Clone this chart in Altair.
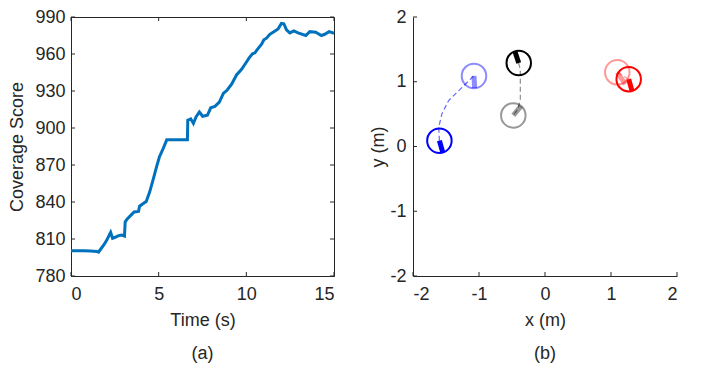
import altair as alt
import pandas as pd

# ---------------- data: panel (a) ----------------
time_s = [0.00, 0.72, 1.10, 1.48, 1.57, 1.71, 1.90, 2.05, 2.18, 2.26, 2.37, 2.52, 2.71, 2.90,
          3.05, 3.09, 3.22, 3.41, 3.60, 3.85, 3.91, 4.10, 4.29, 4.48, 4.70, 4.89, 5.04, 5.23,
          5.46, 6.64, 6.66, 6.83, 6.98, 7.13, 7.32, 7.51, 7.78, 7.97, 8.21, 8.46, 8.69, 8.91,
          9.16, 9.44, 9.73, 9.98, 10.16, 10.35, 10.49, 10.62, 10.77, 10.87, 11.00, 11.15,
          11.34, 11.57, 11.81, 12.00, 12.14, 12.29, 12.48, 12.71, 12.95, 13.39, 13.62, 13.96,
          14.28, 14.47, 14.72, 15.00]
coverage = [800.5, 800.5, 800.2, 799.9, 799.4, 802.1, 805.8, 809.3, 813.2, 815.4, 810.6, 811.4,
            812.7, 813.2, 812.4, 823.9, 826.5, 829.2, 831.9, 832.4, 836.6, 838.5, 840.4, 847.8,
            859.0, 869.1, 876.5, 882.4, 890.4, 890.4, 906.3, 907.4, 903.7, 909.0, 913.0, 909.5,
            910.3, 916.4, 917.5, 921.0, 928.1, 930.8, 935.6, 943.0, 947.6, 952.9, 956.9, 960.1,
            960.9, 963.5, 966.2, 968.0, 971.5, 972.8, 976.0, 978.1, 980.3, 984.8, 984.5, 979.5,
            977.1, 978.7, 977.1, 975.0, 978.1, 977.6, 975.0, 976.0, 978.1, 976.8]
a_xticks = [0, 5, 10, 15]
a_yticks = [780, 810, 840, 870, 900, 930, 960, 990]

# ---------------- data: panel (b) ----------------
robot_x = [-1.60, -1.076, -0.398, -0.48, 1.095, 1.268]
robot_y = [0.09, 1.09, 1.29, 0.48, 1.146, 1.04]
head_x = [-1.55, -1.066, -0.455, -0.364, 1.217, 1.318]
head_y = [-0.088, 0.90, 1.466, 0.624, 0.963, 0.86]
robot_color = ["#0000FF", "#0000FF", "#000000", "#000000", "#FF0000", "#FF0000"]
robot_opacity = [1.0, 0.45, 1.0, 0.4, 0.4, 1.0]

blue_path_x = [-1.60, -1.61, -1.56, -1.46, -1.28, -1.08]
blue_path_y = [0.09, 0.30, 0.51, 0.71, 0.89, 1.09]
gray_path_x = [-0.40, -0.374, -0.374, -0.41, -0.48]
gray_path_y = [1.29, 1.19, 0.73, 0.58, 0.48]
red_path_x = [1.095, 1.268]
red_path_y = [1.146, 1.04]
b_ticks = [-2, -1, 0, 1, 2]

FONT = "Liberation Sans"
TXT = "#262626"
AW, AH = 263, 259
BW, BH = 264, 259
HYPHEN = "datum.value < 0 ? '-' + abs(datum.value) : '' + datum.value"

# ---------------- panel (a) ----------------
df_a = pd.DataFrame({"t": time_s, "v": coverage})
xs_a = alt.Scale(domain=[0, 15], nice=False, zero=False)
ys_a = alt.Scale(domain=[780, 990], nice=False, zero=False)
xax_a = alt.Axis(values=a_xticks, format="d", labelOverlap=False, labelPadding=9,
                 titlePadding=8, title="Time (s)")
yax_a = alt.Axis(values=a_yticks, format="d", labelOverlap=False, labelPadding=6,
                 titlePadding=8, title="Coverage Score")

line_a = alt.Chart(df_a).mark_line(color="#0072BD", strokeWidth=3).encode(
    x=alt.X("t:Q", scale=xs_a, axis=xax_a),
    y=alt.Y("v:Q", scale=ys_a, axis=yax_a),
)
dxa = pd.DataFrame({"t": a_xticks})
dya = pd.DataFrame({"v": a_yticks})
tk = dict(color=TXT, strokeWidth=1)
ticks_a = [
    alt.Chart(dya).mark_rule(**tk).encode(y=alt.Y("v:Q", scale=ys_a, axis=yax_a), x=alt.value(0), x2=alt.value(4)),
    alt.Chart(dya).mark_rule(**tk).encode(y=alt.Y("v:Q", scale=ys_a, axis=yax_a), x=alt.value(AW - 4), x2=alt.value(AW)),
    alt.Chart(dxa).mark_rule(**tk).encode(x=alt.X("t:Q", scale=xs_a, axis=xax_a), y=alt.value(AH - 4), y2=alt.value(AH)),
    alt.Chart(dxa).mark_rule(**tk).encode(x=alt.X("t:Q", scale=xs_a, axis=xax_a), y=alt.value(0), y2=alt.value(4)),
]
chart_a = alt.layer(line_a, *ticks_a).properties(
    width=AW, height=AH,
    view=alt.ViewBackground(stroke=TXT, strokeWidth=1),
    title=alt.TitleParams(text="(a)", orient="bottom", fontSize=18, font=FONT,
                          fontWeight="normal", color=TXT, offset=16),
)

# ---------------- panel (b) ----------------
xs_b = alt.Scale(domain=[-2, 2], nice=False, zero=False)
ys_b = alt.Scale(domain=[-2, 2], nice=False, zero=False)
xax_b = alt.Axis(values=b_ticks, labelExpr=HYPHEN, labelOverlap=False, labelPadding=9,
                 titlePadding=8, title="x (m)")
yax_b = alt.Axis(values=b_ticks, labelExpr=HYPHEN, labelOverlap=False, labelPadding=7,
                 titlePadding=2, title="y (m)")

df_r = pd.DataFrame({"x": robot_x, "y": robot_y, "hx": head_x, "hy": head_y,
                     "c": robot_color, "o": robot_opacity})
paths = []
for pid, (px, py, col, op) in enumerate([
        (blue_path_x, blue_path_y, "#0000FF", 0.6),
        (gray_path_x, gray_path_y, "#000000", 0.45),
        (red_path_x, red_path_y, "#FF0000", 0.4)]):
    for i, (a, b) in enumerate(zip(px, py)):
        paths.append({"x": a, "y": b, "p": pid, "i": i, "c": col, "o": op})
df_p = pd.DataFrame(paths)

path_b = alt.Chart(df_p).mark_line(strokeWidth=1.2, strokeDash=[5, 3]).encode(
    x=alt.X("x:Q", scale=xs_b, axis=xax_b),
    y=alt.Y("y:Q", scale=ys_b, axis=yax_b),
    detail="p:N", order="i:Q",
    color=alt.Color("c:N", scale=None), opacity=alt.Opacity("o:Q", scale=None),
)
heads_b = alt.Chart(df_r).mark_rule(strokeWidth=5, strokeCap="butt").encode(
    x=alt.X("x:Q", scale=xs_b, axis=xax_b), y=alt.Y("y:Q", scale=ys_b, axis=yax_b),
    x2="hx:Q", y2="hy:Q",
    color=alt.Color("c:N", scale=None), opacity=alt.Opacity("o:Q", scale=None),
)
circ_b = alt.Chart(df_r).mark_point(shape="circle", filled=False, size=600, strokeWidth=2).encode(
    x=alt.X("x:Q", scale=xs_b, axis=xax_b), y=alt.Y("y:Q", scale=ys_b, axis=yax_b),
    color=alt.Color("c:N", scale=None), opacity=alt.Opacity("o:Q", scale=None),
)
dbt = pd.DataFrame({"x": b_ticks, "y": b_ticks})
ticks_b = [
    alt.Chart(dbt).mark_rule(**tk).encode(y=alt.Y("y:Q", scale=ys_b, axis=yax_b), x=alt.value(0), x2=alt.value(4)),
    alt.Chart(dbt).mark_rule(**tk).encode(x=alt.X("x:Q", scale=xs_b, axis=xax_b), y=alt.value(BH - 4), y2=alt.value(BH)),
]
chart_b = alt.layer(path_b, heads_b, circ_b, *ticks_b).properties(
    width=BW, height=BH,
    title=alt.TitleParams(text="(b)", orient="bottom", fontSize=18, font=FONT,
                          fontWeight="normal", color=TXT, offset=16),
)

chart = alt.hconcat(chart_a, chart_b, spacing=79, bounds="flush").properties(
    padding={"left": 0, "top": -1, "right": 0, "bottom": 0},
    background="white",
).configure_view(stroke="transparent").configure_axis(
    grid=False, ticks=False, domainColor=TXT, domainWidth=1,
    labelFont=FONT, labelFontSize=18, labelColor=TXT,
    titleFont=FONT, titleFontSize=18, titleFontWeight="normal", titleColor=TXT,
)

chart.save("out.html", embed_options={"renderer": "svg", "actions": False})
